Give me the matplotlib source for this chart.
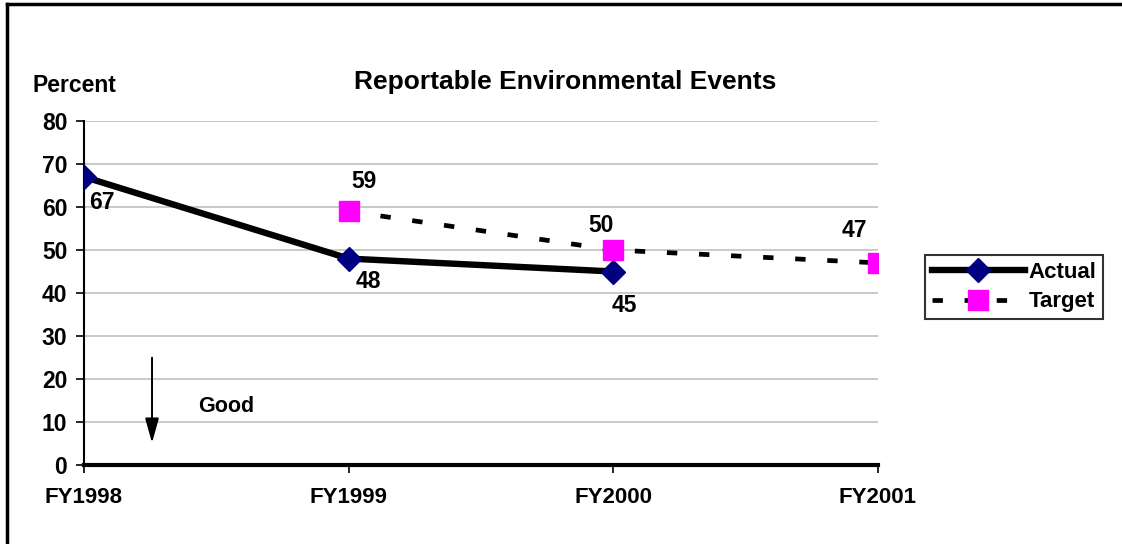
import matplotlib
matplotlib.use("Agg")
import matplotlib.pyplot as plt
from matplotlib.lines import Line2D

categories = ["FY1998", "FY1999", "FY2000", "FY2001"]
actual_x = [0, 1, 2]
actual = [67, 48, 45]
target_x = [1, 2, 3]
target = [59, 50, 47]
yticks = [0, 10, 20, 30, 40, 50, 60, 70, 80]

plt.rcParams['font.family'] = ['Liberation Sans', 'DejaVu Sans']

W, H = 1122, 544
fig = plt.figure(figsize=(W / 100, H / 100), dpi=100)
ax = fig.add_axes([84 / W, 1 - 465 / H, (878 - 84) / W, (465 - 121) / H])

# outer frame (top and left visible)
fig.add_artist(Line2D([7 / W, 7 / W], [0, 1 - 4 / H], color='black', lw=2.5, transform=fig.transFigure))
fig.add_artist(Line2D([7 / W, 1], [1 - 4 / H, 1 - 4 / H], color='black', lw=2.5, transform=fig.transFigure))

ax.set_xlim(0, 3)
ax.set_ylim(0, 80)
for y in yticks[1:]:
    ax.axhline(y, color='#c0c0c0', lw=1.2, zorder=0)

ax.plot(actual_x, actual, color='black', lw=4.6, marker='D', markersize=12,
        markerfacecolor='#000080', markeredgecolor='#000080', label='Actual', zorder=3)
ax.plot(target_x, target, color='black', lw=3.4, ls=(0, (2.2, 4.6)), dash_capstyle='butt',
        marker='s', markersize=14,
        markerfacecolor='#ff00ff', markeredgecolor='#ff00ff', label='Target', zorder=4)

fs = 16.5
lbl = dict(fontsize=fs, fontweight='bold', color='black')
ax.annotate("67", (0, 67), xytext=(4, -10), textcoords='offset points', ha='left', va='top', **lbl)
ax.annotate("48", (1, 48), xytext=(5, -8), textcoords='offset points', ha='left', va='top', **lbl)
ax.annotate("45", (2, 45), xytext=(-1, -16), textcoords='offset points', ha='left', va='top', **lbl)
ax.annotate("59", (1, 59), xytext=(2, 13), textcoords='offset points', ha='left', va='bottom', **lbl)
ax.annotate("50", (2, 50), xytext=(-18, 9), textcoords='offset points', ha='left', va='bottom', **lbl)
ax.annotate("47", (3, 47), xytext=(-26, 15), textcoords='offset points', ha='left', va='bottom', **lbl)

ax.annotate("", xy=(0.257, 4.5), xytext=(0.257, 25.6),
            arrowprops=dict(arrowstyle='-|>,head_width=0.42,head_length=1.5', color='black', lw=1.4))
ax.text(0.43, 13.6, "Good", fontsize=15.5, fontweight='bold', ha='left', va='center')

ax.set_xticks(range(len(categories)))
ax.set_xticklabels(categories, fontsize=16, fontweight='bold')
ax.set_yticks(yticks)
ax.set_yticklabels([str(v) for v in yticks], fontsize=16.5, fontweight='bold')
ax.tick_params(axis='x', direction='out', length=6, width=1.2, pad=10)
ax.tick_params(axis='y', direction='out', length=6, width=1.2, pad=6)

for s in ['top', 'right']:
    ax.spines[s].set_visible(False)
ax.spines['left'].set_linewidth(1.5)
ax.spines['bottom'].set_linewidth(3)
ax.spines['bottom'].set_zorder(5)

fig.text(565 / W, 1 - 82 / H, "Reportable Environmental Events", fontsize=19, fontweight='bold',
         ha='center', va='center')
fig.text(33 / W, 1 - 86 / H, "Percent", fontsize=16.5, fontweight='bold', ha='left', va='center')

leg = fig.legend(loc='center', bbox_to_anchor=(1014 / W, 1 - 287 / H), frameon=True, fancybox=False,
                 edgecolor='black', prop={'weight': 'bold', 'size': 16},
                 handlelength=4.2, handletextpad=0.15, borderpad=0.3, labelspacing=0.4,
                 borderaxespad=0)
leg.get_frame().set_linewidth(1.5)

fig.savefig("out.png", dpi=100)
